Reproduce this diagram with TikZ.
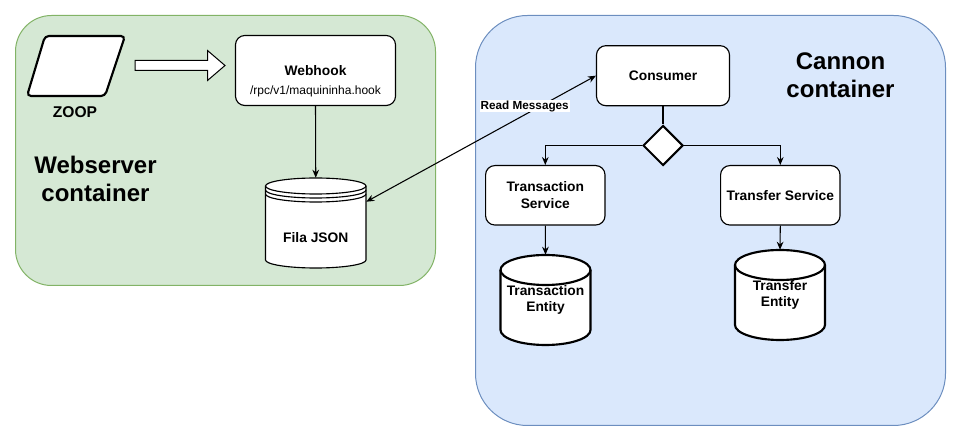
\documentclass[tikz,border=0pt]{standalone}
\usepackage{fontspec}
\setmainfont{Liberation Sans}
\usetikzlibrary{shapes.geometric,arrows.meta}

\begin{document}
\begin{tikzpicture}[
			x=0.75pt, y=-0.75pt,
			greenbox/.style={rectangle, rounded corners=27pt, draw={rgb,255:red,130;green,179;blue,102}, fill={rgb,255:red,213;green,232;blue,212}, line width=0.75pt},
			bluebox/.style={rectangle, rounded corners=39pt, draw={rgb,255:red,108;green,142;blue,191}, fill={rgb,255:red,218;green,232;blue,252}, line width=0.75pt},
			squarewhite/.style={rectangle, rounded corners=7pt, draw=black, fill=white, line width=0.85pt, align=center, font=\fontsize{10.35}{12.4}\selectfont\bfseries},
			dbthick/.style={draw=black, fill=white, line width=1.6pt},
			dbthin/.style={draw=black, fill=white, line width=0.85pt},
			dbtext/.style={rectangle, draw=none, inner sep=0pt, align=center, font=\fontsize{10.35}{12.4}\selectfont\bfseries},
			title/.style={align=center, font=\fontsize{18}{21}\selectfont\bfseries},
			arr/.style={-{Stealth[length=6pt,width=5pt]}, line width=0.8pt},
			]
			\useasboundingbox (0,0) rectangle (961,441);

    \node[greenbox, minimum width=315pt, minimum height=202.5pt] (webserver) at (225.5,150.5) {};
\node[bluebox, minimum width=352.5pt, minimum height=307.5pt] (cannon) at (710.5,220.5) {};
\node[title] (webTitle) at (95.5,179) {Webserver\\container};
\node[title] (cannonTitle) at (840.5,75.5) {Cannon\\container};

\draw[line width=1.6pt, rounded corners=3pt, fill=white] (45,36) -- (125,36) -- (105,96) -- (27,96) -- cycle;
\node[font=\fontsize{11.7}{14}\selectfont\bfseries] (zoop) at (75,112) {ZOOP};
\draw[line width=0.75pt, fill=white] (135,60.5) -- (207.5,60.5) -- (207.5,50.5) -- (225,65.5) -- (207.5,80.5) -- (207.5,70.5) -- (135,70.5) -- cycle;

\node[squarewhite, minimum width=120pt, minimum height=52.5pt] (webhook) at (315.5,70.5) {Webhook};
\node[font=\fontsize{9}{10.8}\selectfont] (hookPath) at (315.5,91) {/rpc/v1/maquininha.hook};

\draw[dbthin] (265.5,186) -- (265.5,260) arc[start angle=180, end angle=0, x radius=50.25, y radius=8] -- (366,186) arc[start angle=0, end angle=-180, x radius=50.25, y radius=8] -- cycle;
\draw[dbthin, fill=none] (265.5,186) arc[start angle=180, end angle=0, x radius=50.25, y radius=8];
\draw[dbthin, fill=none] (265.5,190) arc[start angle=180, end angle=0, x radius=50.25, y radius=8];
\draw[dbthin, fill=none] (265.5,194) arc[start angle=180, end angle=0, x radius=50.25, y radius=8];
\node[dbtext, minimum width=75.4pt, minimum height=67.5pt] (fila) at (315.75,223) {};
\node[dbtext] (filaText) at (315.75,238) {Fila JSON};

\node[squarewhite, minimum width=99.75pt, minimum height=45pt] (consumer) at (663,75.7) {Consumer};
\node[diamond, draw=black, fill=white, line width=1.5pt, inner sep=0pt, minimum width=30pt, minimum height=30pt] (choice) at (663,145.5) {};
\node[squarewhite, minimum width=89.6pt, minimum height=44.6pt] (transSvc) at (545.3,195.3) {Transaction\\Service};
\node[squarewhite, minimum width=89.6pt, minimum height=44.6pt] (transferSvc) at (780.3,195.3) {Transfer Service};

\draw[dbthick] (500.5,270) -- (500.5,330) arc[start angle=180, end angle=0, x radius=45, y radius=15] -- (590.5,270) arc[start angle=0, end angle=-180, x radius=45, y radius=15] -- cycle;
\draw[dbthick, fill=none] (500.5,270) arc[start angle=180, end angle=0, x radius=45, y radius=15];
\node[dbtext, minimum width=67.5pt, minimum height=67.5pt] (transEnt) at (545.5,300) {Transaction\\Entity};
\draw[dbthick] (735,265) -- (735,325) arc[start angle=180, end angle=0, x radius=45, y radius=15] -- (825,265) arc[start angle=0, end angle=-180, x radius=45, y radius=15] -- cycle;
\draw[dbthick, fill=none] (735,265) arc[start angle=180, end angle=0, x radius=45, y radius=15];
\node[dbtext, minimum width=67.5pt, minimum height=67.5pt] (transferEnt) at (780,295) {Transfer\\Entity};

\draw[arr] (webhook.south) -- (fila.north);
\draw[arr, {Stealth[length=6pt,width=5pt]}-{Stealth[length=6pt,width=5pt]}] ([yshift=-18pt]fila.north east) -- node[pos=0.69, yshift=6.5pt, fill=white, inner sep=0.6pt, font=\fontsize{8.8}{10}\selectfont\bfseries] (readMsg) {Read Messages} (consumer.west);
\draw[line width=0.8pt] (consumer.south) -- (choice.north);
\draw[arr] (choice.west) -| (transSvc.north);
\draw[arr] (choice.east) -| (transferSvc.north);
\draw[arr] (transSvc.south) -- (transEnt.north);
\draw[arr] (transferSvc.south) -- (transferEnt.north);

        \end{tikzpicture}
\end{document}
